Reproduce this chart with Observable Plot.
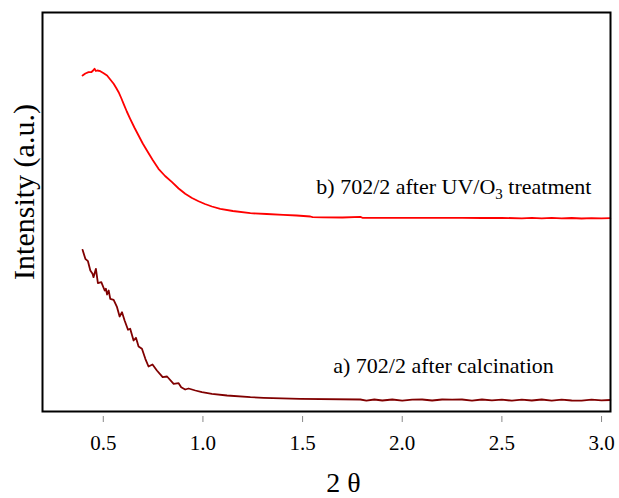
<!DOCTYPE html>
<html><head><meta charset="utf-8">
<script src="https://cdn.jsdelivr.net/npm/d3@7"></script>
<script src="https://cdn.jsdelivr.net/npm/@observablehq/plot@0.6"></script>
<style>body{margin:0;background:#fff} svg{display:block}</style>
</head><body><div id="chart"></div>
<script>
const xTicks = [0.5, 1.0, 1.5, 2.0, 2.5, 3.0];

// b) 702/2 after UV/O3 treatment
const bX = [0.396,0.41,0.426,0.441,0.449,0.456,0.463,0.47,0.485,0.50,0.519,0.535,0.552,0.565,0.577,0.590,0.602,0.618,0.635,0.656,0.677,0.698,0.719,0.748,0.777,0.81,0.845,0.878,0.911,0.945,0.978,1.01,1.045,1.087,1.15,1.238,1.32,1.403,1.47,1.539,1.55,1.6,1.7,1.79,1.80,1.9,2.0,2.1,2.2,2.3,2.4,2.5,2.6,2.65,2.7,2.75,2.8,2.85,2.9,2.95,3.0,3.044];
const bY = [336,338,339.3,339.5,341,342.7,340.5,341,340.3,338.5,336,332,327.7,323.5,319.3,313.5,307.7,300,292.7,284,276,268,261,251.5,242.7,235.5,229.3,223,217.7,213.5,210.3,207.5,205,202.7,200.5,198.3,197.5,196.7,196,195,194.3,194.2,194,194.6,193.7,193.7,193.6,193.7,193.6,193.7,193.5,193.6,193.2,193.7,193.1,193.6,193.2,193.5,193.0,193.4,193.2,193.3];

// a) 702/2 after calcination
const aX = [0.396,0.410,0.423,0.435,0.446,0.451,0.463,0.473,0.490,0.507,0.513,0.519,0.527,0.535,0.552,0.569,0.582,0.594,0.607,0.624,0.635,0.652,0.664,0.677,0.694,0.711,0.727,0.747,0.769,0.798,0.820,0.853,0.878,0.891,0.911,0.928,0.962,0.995,1.045,1.121,1.238,1.304,1.488,1.79,1.82,1.86,1.90,1.95,2.0,2.05,2.1,2.15,2.2,2.25,2.3,2.35,2.4,2.45,2.5,2.55,2.6,2.65,2.7,2.75,2.8,2.85,2.9,2.95,3.0,3.044];
const aY = [161.7,152.7,150.3,141,137.7,134.3,142.7,128.3,129.3,121,122.7,117,121,112.7,111.7,104.3,95,99.3,91,81.7,82.7,71,73.7,65,62.7,52.7,45,47,41,34.3,35,27.7,28.3,24.3,22,23,21,19.3,17.7,16,14.3,13.7,12.7,12,10.9,12,11,12,10.8,11.9,12,11,12,11.9,12,10.9,12,11.2,11.9,10.8,11.8,11,12,10.9,11.8,11,10.9,11.9,11.2,11.5];

const labels = [
  {x: 1.569, y: 218, text: "b) 702/2 after UV/O3 treatment"},
  {x: 1.654, y: 39, text: "a) 702/2 after calcination"}
];

const dataB = bX.map((x, i) => ({x, y: bY[i]}));
const dataA = aX.map((x, i) => ({x, y: aY[i]}));
const serif = "'Liberation Serif', 'Times New Roman', serif";

const chart = Plot.plot({
  width: 619, height: 498,
  marginLeft: 42, marginRight: 9, marginTop: 12, marginBottom: 87,
  style: {fontFamily: serif, background: "#fff", color: "#000"},
  x: {domain: [0.195, 3.045]},
  y: {domain: [0, 399], axis: null},
  marks: [
    Plot.line(dataB, {x: "x", y: "y", stroke: "#ff0000", strokeWidth: 1.8}),
    Plot.line(dataA, {x: "x", y: "y", stroke: "#800000", strokeWidth: 1.8}),
    Plot.frame({stroke: "#000", strokeWidth: 2}),
    Plot.axisX(xTicks, {tickSize: 6, tickPadding: 13, dy: 5, fontSize: 21, fontFamily: serif, stroke: "#888", fill: "#000", tickFormat: d => d.toFixed(1), label: null}),
    Plot.text(labels, {x: "x", y: "y", text: "text", textAnchor: "start", lineAnchor: "bottom", fontSize: 22, fontFamily: serif, fill: "#000"}),
    Plot.text(["2 θ"], {frameAnchor: "bottom", dy: 72, dx: 17, textAnchor: "middle", lineAnchor: "middle", fontSize: 28, fontFamily: serif, fill: "#000"}),
    Plot.text(["Intensity (a.u.)"], {frameAnchor: "left", rotate: -90, dx: -18, dy: -20, textAnchor: "middle", lineAnchor: "middle", fontSize: 30, fontFamily: serif, fill: "#000"})
  ]
});
document.getElementById("chart").appendChild(chart);

// subscript for O3
chart.querySelectorAll("text").forEach(t => {
  if (t.textContent === "b) 702/2 after UV/O3 treatment") {
    t.innerHTML = 'b) 702/2 after UV/O<tspan dy="5" font-size="15">3</tspan><tspan dy="-5"> treatment</tspan>';
  }
});
</script>
</body></html>
